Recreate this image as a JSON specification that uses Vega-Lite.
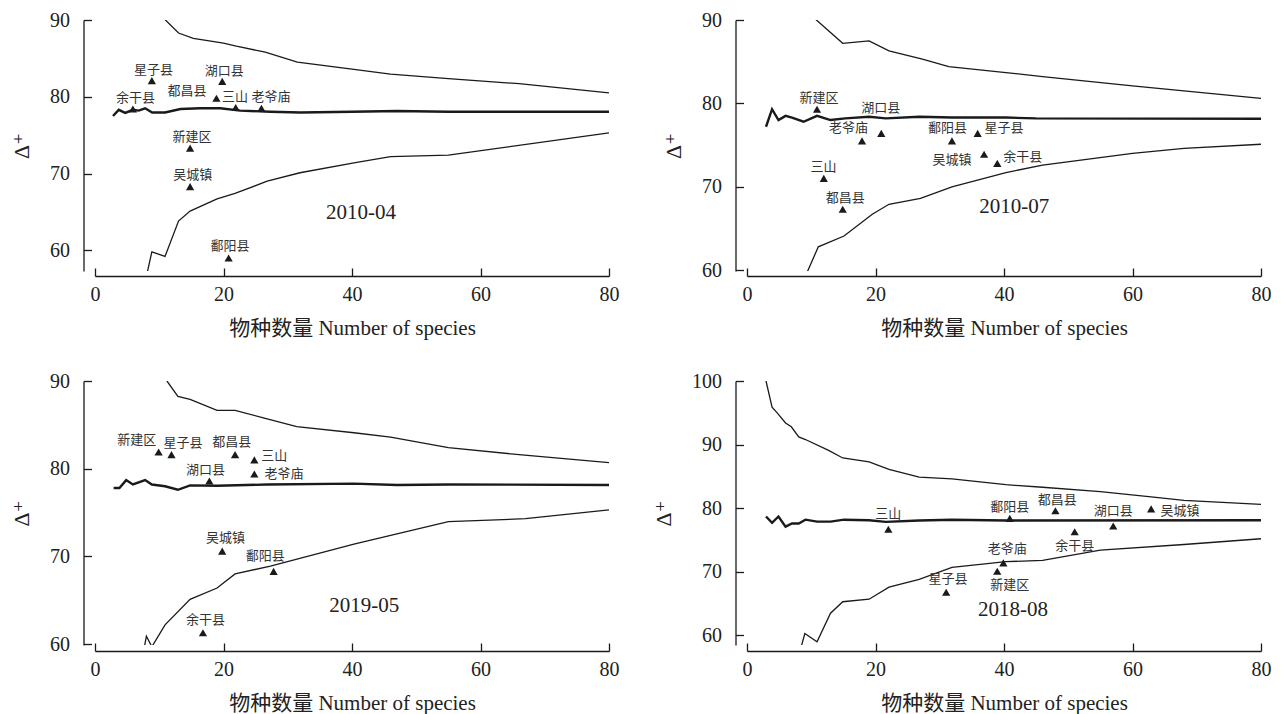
{
  "$schema": "https://vega.github.io/schema/vega-lite/v6.json",
  "padding": {"left": 10, "top": 10, "right": 5, "bottom": 5},
  "background": "white",
  "config": {
    "view": {"stroke": null},
    "axis": {
      "grid": false,
      "domainColor": "#1a1a1a",
      "domainWidth": 1.3,
      "tickColor": "#1a1a1a",
      "tickWidth": 1.3,
      "tickSize": -8,
      "labelFlush": false,
      "labelColor": "#222",
      "titleColor": "#222",
      "labelFont": "Liberation Serif",
      "labelFontSize": 20,
      "titleFont": "Liberation Serif, Noto Sans CJK SC",
      "titleFontWeight": "normal"
    }
  },
  "datasets": {
    "curves": [
      {"panel": "2010-04", "curve": "upper", "x": 10.6, "y": 90.3},
      {"panel": "2010-04", "curve": "upper", "x": 13.0, "y": 88.3},
      {"panel": "2010-04", "curve": "upper", "x": 15.3, "y": 87.6},
      {"panel": "2010-04", "curve": "upper", "x": 20.0, "y": 87.0},
      {"panel": "2010-04", "curve": "upper", "x": 22.0, "y": 86.6},
      {"panel": "2010-04", "curve": "upper", "x": 26.5, "y": 85.8},
      {"panel": "2010-04", "curve": "upper", "x": 31.5, "y": 84.5},
      {"panel": "2010-04", "curve": "upper", "x": 40.0, "y": 83.6},
      {"panel": "2010-04", "curve": "upper", "x": 46.0, "y": 82.95},
      {"panel": "2010-04", "curve": "upper", "x": 55.0, "y": 82.35},
      {"panel": "2010-04", "curve": "upper", "x": 66.0, "y": 81.7},
      {"panel": "2010-04", "curve": "upper", "x": 80.0, "y": 80.5},
      {"panel": "2010-04", "curve": "lower", "x": 8.0, "y": 56.6},
      {"panel": "2010-04", "curve": "lower", "x": 8.85, "y": 59.8},
      {"panel": "2010-04", "curve": "lower", "x": 10.9, "y": 59.2},
      {"panel": "2010-04", "curve": "lower", "x": 13.0, "y": 63.8},
      {"panel": "2010-04", "curve": "lower", "x": 14.8, "y": 65.1},
      {"panel": "2010-04", "curve": "lower", "x": 19.0, "y": 66.7},
      {"panel": "2010-04", "curve": "lower", "x": 21.8, "y": 67.4},
      {"panel": "2010-04", "curve": "lower", "x": 26.8, "y": 69.0},
      {"panel": "2010-04", "curve": "lower", "x": 31.9, "y": 70.1},
      {"panel": "2010-04", "curve": "lower", "x": 40.3, "y": 71.4},
      {"panel": "2010-04", "curve": "lower", "x": 46.0, "y": 72.2},
      {"panel": "2010-04", "curve": "lower", "x": 55.0, "y": 72.4},
      {"panel": "2010-04", "curve": "lower", "x": 80.0, "y": 75.3},
      {"panel": "2010-04", "curve": "mean", "x": 2.8, "y": 77.5},
      {"panel": "2010-04", "curve": "mean", "x": 3.7, "y": 78.3},
      {"panel": "2010-04", "curve": "mean", "x": 4.7, "y": 77.9},
      {"panel": "2010-04", "curve": "mean", "x": 5.9, "y": 78.3},
      {"panel": "2010-04", "curve": "mean", "x": 6.8, "y": 78.2},
      {"panel": "2010-04", "curve": "mean", "x": 7.8, "y": 78.5},
      {"panel": "2010-04", "curve": "mean", "x": 8.9, "y": 77.95},
      {"panel": "2010-04", "curve": "mean", "x": 10.9, "y": 77.95},
      {"panel": "2010-04", "curve": "mean", "x": 13.3, "y": 78.4},
      {"panel": "2010-04", "curve": "mean", "x": 16.4, "y": 78.5},
      {"panel": "2010-04", "curve": "mean", "x": 19.5, "y": 78.5},
      {"panel": "2010-04", "curve": "mean", "x": 22.6, "y": 78.2},
      {"panel": "2010-04", "curve": "mean", "x": 27.3, "y": 78.05},
      {"panel": "2010-04", "curve": "mean", "x": 32.0, "y": 77.95},
      {"panel": "2010-04", "curve": "mean", "x": 40.0, "y": 78.05},
      {"panel": "2010-04", "curve": "mean", "x": 47.0, "y": 78.15},
      {"panel": "2010-04", "curve": "mean", "x": 55.0, "y": 78.05},
      {"panel": "2010-04", "curve": "mean", "x": 80.0, "y": 78.05},

      {"panel": "2010-07", "curve": "upper", "x": 10.65, "y": 90.1},
      {"panel": "2010-07", "curve": "upper", "x": 14.9, "y": 87.2},
      {"panel": "2010-07", "curve": "upper", "x": 19.0, "y": 87.5},
      {"panel": "2010-07", "curve": "upper", "x": 22.1, "y": 86.3},
      {"panel": "2010-07", "curve": "upper", "x": 27.3, "y": 85.3},
      {"panel": "2010-07", "curve": "upper", "x": 31.4, "y": 84.4},
      {"panel": "2010-07", "curve": "upper", "x": 40.3, "y": 83.7},
      {"panel": "2010-07", "curve": "upper", "x": 46.0, "y": 83.2},
      {"panel": "2010-07", "curve": "upper", "x": 60.0, "y": 82.1},
      {"panel": "2010-07", "curve": "upper", "x": 68.0, "y": 81.5},
      {"panel": "2010-07", "curve": "upper", "x": 80.0, "y": 80.6},
      {"panel": "2010-07", "curve": "lower", "x": 9.1, "y": 59.3},
      {"panel": "2010-07", "curve": "lower", "x": 11.1, "y": 62.8},
      {"panel": "2010-07", "curve": "lower", "x": 15.1, "y": 64.1},
      {"panel": "2010-07", "curve": "lower", "x": 19.5, "y": 66.7},
      {"panel": "2010-07", "curve": "lower", "x": 22.1, "y": 67.9},
      {"panel": "2010-07", "curve": "lower", "x": 27.0, "y": 68.6},
      {"panel": "2010-07", "curve": "lower", "x": 31.9, "y": 70.0},
      {"panel": "2010-07", "curve": "lower", "x": 40.3, "y": 71.7},
      {"panel": "2010-07", "curve": "lower", "x": 46.0, "y": 72.6},
      {"panel": "2010-07", "curve": "lower", "x": 60.0, "y": 74.0},
      {"panel": "2010-07", "curve": "lower", "x": 68.0, "y": 74.6},
      {"panel": "2010-07", "curve": "lower", "x": 80.0, "y": 75.1},
      {"panel": "2010-07", "curve": "mean", "x": 2.96, "y": 77.2},
      {"panel": "2010-07", "curve": "mean", "x": 3.9, "y": 79.3},
      {"panel": "2010-07", "curve": "mean", "x": 4.9, "y": 78.0},
      {"panel": "2010-07", "curve": "mean", "x": 6.0, "y": 78.5},
      {"panel": "2010-07", "curve": "mean", "x": 7.0, "y": 78.3},
      {"panel": "2010-07", "curve": "mean", "x": 8.8, "y": 77.8},
      {"panel": "2010-07", "curve": "mean", "x": 10.9, "y": 78.5},
      {"panel": "2010-07", "curve": "mean", "x": 13.0, "y": 78.0},
      {"panel": "2010-07", "curve": "mean", "x": 15.3, "y": 78.2},
      {"panel": "2010-07", "curve": "mean", "x": 19.0, "y": 78.4},
      {"panel": "2010-07", "curve": "mean", "x": 21.6, "y": 78.2},
      {"panel": "2010-07", "curve": "mean", "x": 26.8, "y": 78.4},
      {"panel": "2010-07", "curve": "mean", "x": 31.9, "y": 78.3},
      {"panel": "2010-07", "curve": "mean", "x": 40.3, "y": 78.3},
      {"panel": "2010-07", "curve": "mean", "x": 45.0, "y": 78.2},
      {"panel": "2010-07", "curve": "mean", "x": 80.0, "y": 78.15},

      {"panel": "2019-05", "curve": "upper", "x": 11.2, "y": 90.0},
      {"panel": "2019-05", "curve": "upper", "x": 12.9, "y": 88.25},
      {"panel": "2019-05", "curve": "upper", "x": 14.8, "y": 87.9},
      {"panel": "2019-05", "curve": "upper", "x": 19.0, "y": 86.65},
      {"panel": "2019-05", "curve": "upper", "x": 21.8, "y": 86.65},
      {"panel": "2019-05", "curve": "upper", "x": 26.2, "y": 85.8},
      {"panel": "2019-05", "curve": "upper", "x": 31.4, "y": 84.8},
      {"panel": "2019-05", "curve": "upper", "x": 40.3, "y": 84.1},
      {"panel": "2019-05", "curve": "upper", "x": 46.0, "y": 83.6},
      {"panel": "2019-05", "curve": "upper", "x": 55.0, "y": 82.4},
      {"panel": "2019-05", "curve": "upper", "x": 66.0, "y": 81.6},
      {"panel": "2019-05", "curve": "upper", "x": 80.0, "y": 80.7},
      {"panel": "2019-05", "curve": "lower", "x": 7.6, "y": 59.35},
      {"panel": "2019-05", "curve": "lower", "x": 8.0, "y": 60.9},
      {"panel": "2019-05", "curve": "lower", "x": 8.85, "y": 59.7},
      {"panel": "2019-05", "curve": "lower", "x": 10.9, "y": 62.2},
      {"panel": "2019-05", "curve": "lower", "x": 14.8, "y": 65.1},
      {"panel": "2019-05", "curve": "lower", "x": 19.0, "y": 66.4},
      {"panel": "2019-05", "curve": "lower", "x": 21.8, "y": 68.0},
      {"panel": "2019-05", "curve": "lower", "x": 27.3, "y": 68.9},
      {"panel": "2019-05", "curve": "lower", "x": 40.3, "y": 71.4},
      {"panel": "2019-05", "curve": "lower", "x": 55.0, "y": 73.96},
      {"panel": "2019-05", "curve": "lower", "x": 67.0, "y": 74.3},
      {"panel": "2019-05", "curve": "lower", "x": 80.0, "y": 75.3},
      {"panel": "2019-05", "curve": "mean", "x": 2.9, "y": 77.8},
      {"panel": "2019-05", "curve": "mean", "x": 3.8, "y": 77.8},
      {"panel": "2019-05", "curve": "mean", "x": 4.85, "y": 78.7},
      {"panel": "2019-05", "curve": "mean", "x": 5.9, "y": 78.2},
      {"panel": "2019-05", "curve": "mean", "x": 7.8, "y": 78.7},
      {"panel": "2019-05", "curve": "mean", "x": 8.85, "y": 78.2},
      {"panel": "2019-05", "curve": "mean", "x": 10.9, "y": 78.0},
      {"panel": "2019-05", "curve": "mean", "x": 12.9, "y": 77.6},
      {"panel": "2019-05", "curve": "mean", "x": 14.8, "y": 78.1},
      {"panel": "2019-05", "curve": "mean", "x": 19.0, "y": 78.05},
      {"panel": "2019-05", "curve": "mean", "x": 26.8, "y": 78.2},
      {"panel": "2019-05", "curve": "mean", "x": 40.3, "y": 78.3},
      {"panel": "2019-05", "curve": "mean", "x": 47.0, "y": 78.15},
      {"panel": "2019-05", "curve": "mean", "x": 55.0, "y": 78.2},
      {"panel": "2019-05", "curve": "mean", "x": 80.0, "y": 78.15},

      {"panel": "2018-08", "curve": "upper", "x": 2.96, "y": 100.0},
      {"panel": "2018-08", "curve": "upper", "x": 3.9, "y": 95.9},
      {"panel": "2018-08", "curve": "upper", "x": 4.7, "y": 95.0},
      {"panel": "2018-08", "curve": "upper", "x": 6.0, "y": 93.4},
      {"panel": "2018-08", "curve": "upper", "x": 6.9, "y": 92.8},
      {"panel": "2018-08", "curve": "upper", "x": 8.05, "y": 91.2},
      {"panel": "2018-08", "curve": "upper", "x": 9.1, "y": 90.8},
      {"panel": "2018-08", "curve": "upper", "x": 12.7, "y": 89.1},
      {"panel": "2018-08", "curve": "upper", "x": 14.9, "y": 87.9},
      {"panel": "2018-08", "curve": "upper", "x": 19.0, "y": 87.3},
      {"panel": "2018-08", "curve": "upper", "x": 22.1, "y": 86.1},
      {"panel": "2018-08", "curve": "upper", "x": 26.8, "y": 84.9},
      {"panel": "2018-08", "curve": "upper", "x": 31.9, "y": 84.6},
      {"panel": "2018-08", "curve": "upper", "x": 40.3, "y": 83.7},
      {"panel": "2018-08", "curve": "upper", "x": 46.0, "y": 83.3},
      {"panel": "2018-08", "curve": "upper", "x": 55.0, "y": 82.6},
      {"panel": "2018-08", "curve": "upper", "x": 62.9, "y": 81.8},
      {"panel": "2018-08", "curve": "upper", "x": 68.0, "y": 81.25},
      {"panel": "2018-08", "curve": "upper", "x": 80.0, "y": 80.6},
      {"panel": "2018-08", "curve": "lower", "x": 8.3, "y": 57.7},
      {"panel": "2018-08", "curve": "lower", "x": 9.0, "y": 60.3},
      {"panel": "2018-08", "curve": "lower", "x": 10.9, "y": 59.0},
      {"panel": "2018-08", "curve": "lower", "x": 13.0, "y": 63.5},
      {"panel": "2018-08", "curve": "lower", "x": 14.9, "y": 65.3},
      {"panel": "2018-08", "curve": "lower", "x": 19.0, "y": 65.7},
      {"panel": "2018-08", "curve": "lower", "x": 22.1, "y": 67.6},
      {"panel": "2018-08", "curve": "lower", "x": 26.8, "y": 68.8},
      {"panel": "2018-08", "curve": "lower", "x": 31.9, "y": 70.7},
      {"panel": "2018-08", "curve": "lower", "x": 40.3, "y": 71.6},
      {"panel": "2018-08", "curve": "lower", "x": 46.0, "y": 71.8},
      {"panel": "2018-08", "curve": "lower", "x": 55.0, "y": 73.4},
      {"panel": "2018-08", "curve": "lower", "x": 68.0, "y": 74.3},
      {"panel": "2018-08", "curve": "lower", "x": 80.0, "y": 75.2},
      {"panel": "2018-08", "curve": "mean", "x": 2.96, "y": 78.7},
      {"panel": "2018-08", "curve": "mean", "x": 3.9, "y": 77.7},
      {"panel": "2018-08", "curve": "mean", "x": 4.9, "y": 78.7},
      {"panel": "2018-08", "curve": "mean", "x": 6.0, "y": 77.1},
      {"panel": "2018-08", "curve": "mean", "x": 7.0, "y": 77.6},
      {"panel": "2018-08", "curve": "mean", "x": 8.05, "y": 77.6},
      {"panel": "2018-08", "curve": "mean", "x": 9.1, "y": 78.2},
      {"panel": "2018-08", "curve": "mean", "x": 10.9, "y": 77.9},
      {"panel": "2018-08", "curve": "mean", "x": 13.0, "y": 77.9},
      {"panel": "2018-08", "curve": "mean", "x": 15.1, "y": 78.2},
      {"panel": "2018-08", "curve": "mean", "x": 19.0, "y": 78.1},
      {"panel": "2018-08", "curve": "mean", "x": 21.6, "y": 77.85},
      {"panel": "2018-08", "curve": "mean", "x": 26.8, "y": 78.06},
      {"panel": "2018-08", "curve": "mean", "x": 31.9, "y": 78.2},
      {"panel": "2018-08", "curve": "mean", "x": 40.3, "y": 78.06},
      {"panel": "2018-08", "curve": "mean", "x": 80.0, "y": 78.1}
    ],
    "sites": [
      {"panel": "2010-04", "site": "余干县", "n": 5.9, "delta": 78.4, "lx": 6.3, "ly": 79.9},
      {"panel": "2010-04", "site": "星子县", "n": 8.85, "delta": 82.1, "lx": 9.1, "ly": 83.5},
      {"panel": "2010-04", "site": "都昌县", "n": 18.9, "delta": 79.8, "lx": 14.3, "ly": 80.8},
      {"panel": "2010-04", "site": "湖口县", "n": 19.8, "delta": 82.0, "lx": 20.1, "ly": 83.4},
      {"panel": "2010-04", "site": "三山", "n": 21.9, "delta": 78.6, "lx": 21.8, "ly": 80.0},
      {"panel": "2010-04", "site": "老爷庙", "n": 25.9, "delta": 78.5, "lx": 27.4, "ly": 80.0},
      {"panel": "2010-04", "site": "新建区", "n": 14.8, "delta": 73.3, "lx": 15.1, "ly": 74.7},
      {"panel": "2010-04", "site": "吴城镇", "n": 14.8, "delta": 68.3, "lx": 15.2, "ly": 69.8},
      {"panel": "2010-04", "site": "鄱阳县", "n": 20.8, "delta": 59.0, "lx": 21.0, "ly": 60.5},

      {"panel": "2010-07", "site": "新建区", "n": 10.9, "delta": 79.3, "lx": 11.2, "ly": 80.7},
      {"panel": "2010-07", "site": "湖口县", "n": 20.9, "delta": 76.4, "lx": 20.8, "ly": 79.5},
      {"panel": "2010-07", "site": "老爷庙", "n": 17.9, "delta": 75.5, "lx": 15.8, "ly": 77.0},
      {"panel": "2010-07", "site": "鄱阳县", "n": 31.9, "delta": 75.5, "lx": 31.2, "ly": 77.0},
      {"panel": "2010-07", "site": "星子县", "n": 35.9, "delta": 76.4, "lx": 40.0, "ly": 77.0},
      {"panel": "2010-07", "site": "吴城镇", "n": 36.9, "delta": 73.9, "lx": 31.9, "ly": 73.2},
      {"panel": "2010-07", "site": "余干县", "n": 38.96, "delta": 72.8, "lx": 42.9, "ly": 73.6},
      {"panel": "2010-07", "site": "三山", "n": 11.95, "delta": 71.0, "lx": 11.9, "ly": 72.4},
      {"panel": "2010-07", "site": "都昌县", "n": 14.9, "delta": 67.3, "lx": 15.3, "ly": 68.6},

      {"panel": "2019-05", "site": "新建区", "n": 9.9, "delta": 81.9, "lx": 6.5, "ly": 83.3},
      {"panel": "2019-05", "site": "星子县", "n": 11.9, "delta": 81.6, "lx": 13.7, "ly": 82.9},
      {"panel": "2019-05", "site": "都昌县", "n": 21.8, "delta": 81.6, "lx": 21.3, "ly": 83.0},
      {"panel": "2019-05", "site": "三山", "n": 24.8, "delta": 81.0, "lx": 27.9, "ly": 81.4},
      {"panel": "2019-05", "site": "老爷庙", "n": 24.8, "delta": 79.4, "lx": 29.4, "ly": 79.4},
      {"panel": "2019-05", "site": "湖口县", "n": 17.8, "delta": 78.6, "lx": 17.2, "ly": 79.9},
      {"panel": "2019-05", "site": "吴城镇", "n": 19.8, "delta": 70.6, "lx": 20.3, "ly": 72.1},
      {"panel": "2019-05", "site": "鄱阳县", "n": 27.8, "delta": 68.3, "lx": 26.5, "ly": 70.1},
      {"panel": "2019-05", "site": "余干县", "n": 16.8, "delta": 61.3, "lx": 17.2, "ly": 62.8},

      {"panel": "2018-08", "site": "三山", "n": 22.0, "delta": 76.7, "lx": 22.0, "ly": 79.1},
      {"panel": "2018-08", "site": "鄱阳县", "n": 40.9, "delta": 78.4, "lx": 40.9, "ly": 80.2},
      {"panel": "2018-08", "site": "都昌县", "n": 48.0, "delta": 79.6, "lx": 48.3, "ly": 81.3},
      {"panel": "2018-08", "site": "湖口县", "n": 57.0, "delta": 77.2, "lx": 57.0, "ly": 79.6},
      {"panel": "2018-08", "site": "吴城镇", "n": 62.9, "delta": 79.9, "lx": 67.4, "ly": 79.6},
      {"panel": "2018-08", "site": "余干县", "n": 51.0, "delta": 76.3, "lx": 51.0, "ly": 74.0},
      {"panel": "2018-08", "site": "老爷庙", "n": 39.9, "delta": 71.4, "lx": 40.5, "ly": 73.6},
      {"panel": "2018-08", "site": "新建区", "n": 38.95, "delta": 70.1, "lx": 40.9, "ly": 67.9},
      {"panel": "2018-08", "site": "星子县", "n": 31.0, "delta": 66.8, "lx": 31.3, "ly": 68.8}
    ],
    "panels": [
      {"panel": "2010-04", "tx": 41.4, "ty": 64.9},
      {"panel": "2010-07", "tx": 41.6, "ty": 67.6},
      {"panel": "2019-05", "tx": 41.9, "ty": 64.4},
      {"panel": "2018-08", "tx": 41.4, "ty": 64.0}
    ]
  },
  "columns": 2,
  "bounds": "flush",
  "spacing": {"row": 110, "column": 138},
  "concat": [
    {
      "width": 514, "height": 251,
      "layer": [
        {"data": {"name": "curves"}, "transform": [{"filter": "datum.panel === '2010-04' && datum.curve !== 'mean'"}],
         "mark": {"type": "line", "clip": true, "color": "#1a1a1a", "strokeWidth": 1.3},
         "encoding": {
           "x": {"field": "x", "type": "quantitative", "title": "物种数量 Number of species", "scale": {"domain": [0, 80], "nice": false, "zero": false},
                 "axis": {"values": [0, 20, 40, 60, 80], "offset": 5, "labelPadding": 16, "titleFontSize": 21, "titlePadding": 13}},
           "y": {"field": "y", "type": "quantitative", "title": "Δ⁺", "scale": {"domain": [57.3, 90], "nice": false, "zero": false},
                 "axis": {"values": [60, 70, 80, 90], "offset": 11.5, "labelPadding": 22, "titleFontSize": 22, "titlePadding": 16, "titleFont": "Liberation Serif, DejaVu Serif"}},
           "detail": {"field": "curve"}
         }},
        {"data": {"name": "curves"}, "transform": [{"filter": "datum.panel === '2010-04' && datum.curve === 'mean'"}],
         "mark": {"type": "line", "clip": true, "color": "#1a1a1a", "strokeWidth": 2.4},
         "encoding": {"x": {"field": "x", "type": "quantitative", "title": "物种数量 Number of species"}, "y": {"field": "y", "type": "quantitative", "title": "Δ⁺"}}},
        {"data": {"name": "sites"}, "transform": [{"filter": "datum.panel === '2010-04'"}],
         "mark": {"type": "point", "shape": "triangle-up", "filled": true, "size": 68, "color": "#1a1a1a", "opacity": 1},
         "encoding": {"x": {"field": "n", "type": "quantitative", "title": "物种数量 Number of species"}, "y": {"field": "delta", "type": "quantitative", "title": "Δ⁺"}}},
        {"data": {"name": "sites"}, "transform": [{"filter": "datum.panel === '2010-04'"}],
         "mark": {"type": "text", "font": "Noto Sans CJK SC", "fontSize": 13, "color": "#333", "baseline": "middle", "align": "center"},
         "encoding": {"x": {"field": "lx", "type": "quantitative", "title": "物种数量 Number of species"}, "y": {"field": "ly", "type": "quantitative", "title": "Δ⁺"}, "text": {"field": "site"}}},
        {"data": {"name": "panels"}, "transform": [{"filter": "datum.panel === '2010-04'"}],
         "mark": {"type": "text", "font": "Liberation Serif", "fontSize": 21, "color": "#222", "baseline": "middle", "align": "center"},
         "encoding": {"x": {"field": "tx", "type": "quantitative", "title": "物种数量 Number of species"}, "y": {"field": "ty", "type": "quantitative", "title": "Δ⁺"}, "text": {"field": "panel"}}}
      ]
    },
    {
      "width": 514, "height": 251,
      "layer": [
        {"data": {"name": "curves"}, "transform": [{"filter": "datum.panel === '2010-07' && datum.curve !== 'mean'"}],
         "mark": {"type": "line", "clip": true, "color": "#1a1a1a", "strokeWidth": 1.3},
         "encoding": {
           "x": {"field": "x", "type": "quantitative", "title": "物种数量 Number of species", "scale": {"domain": [0, 80], "nice": false, "zero": false},
                 "axis": {"values": [0, 20, 40, 60, 80], "offset": 5, "labelPadding": 16, "titleFontSize": 21, "titlePadding": 13}},
           "y": {"field": "y", "type": "quantitative", "title": "Δ⁺", "scale": {"domain": [59.9, 90], "nice": false, "zero": false},
                 "axis": {"values": [60, 70, 80, 90], "offset": 11.5, "labelPadding": 22, "titleFontSize": 22, "titlePadding": 16, "titleFont": "Liberation Serif, DejaVu Serif"}},
           "detail": {"field": "curve"}
         }},
        {"data": {"name": "curves"}, "transform": [{"filter": "datum.panel === '2010-07' && datum.curve === 'mean'"}],
         "mark": {"type": "line", "clip": true, "color": "#1a1a1a", "strokeWidth": 2.4},
         "encoding": {"x": {"field": "x", "type": "quantitative", "title": "物种数量 Number of species"}, "y": {"field": "y", "type": "quantitative", "title": "Δ⁺"}}},
        {"data": {"name": "sites"}, "transform": [{"filter": "datum.panel === '2010-07'"}],
         "mark": {"type": "point", "shape": "triangle-up", "filled": true, "size": 68, "color": "#1a1a1a", "opacity": 1},
         "encoding": {"x": {"field": "n", "type": "quantitative", "title": "物种数量 Number of species"}, "y": {"field": "delta", "type": "quantitative", "title": "Δ⁺"}}},
        {"data": {"name": "sites"}, "transform": [{"filter": "datum.panel === '2010-07'"}],
         "mark": {"type": "text", "font": "Noto Sans CJK SC", "fontSize": 13, "color": "#333", "baseline": "middle", "align": "center"},
         "encoding": {"x": {"field": "lx", "type": "quantitative", "title": "物种数量 Number of species"}, "y": {"field": "ly", "type": "quantitative", "title": "Δ⁺"}, "text": {"field": "site"}}},
        {"data": {"name": "panels"}, "transform": [{"filter": "datum.panel === '2010-07'"}],
         "mark": {"type": "text", "font": "Liberation Serif", "fontSize": 21, "color": "#222", "baseline": "middle", "align": "center"},
         "encoding": {"x": {"field": "tx", "type": "quantitative", "title": "物种数量 Number of species"}, "y": {"field": "ty", "type": "quantitative", "title": "Δ⁺"}, "text": {"field": "panel"}}}
      ]
    },
    {
      "width": 514, "height": 264,
      "layer": [
        {"data": {"name": "curves"}, "transform": [{"filter": "datum.panel === '2019-05' && datum.curve !== 'mean'"}],
         "mark": {"type": "line", "clip": true, "color": "#1a1a1a", "strokeWidth": 1.3},
         "encoding": {
           "x": {"field": "x", "type": "quantitative", "title": "物种数量 Number of species", "scale": {"domain": [0, 80], "nice": false, "zero": false},
                 "axis": {"values": [0, 20, 40, 60, 80], "offset": 6, "labelPadding": 16, "titleFontSize": 21, "titlePadding": 13}},
           "y": {"field": "y", "type": "quantitative", "title": "Δ⁺", "scale": {"domain": [59.9, 90], "nice": false, "zero": false},
                 "axis": {"values": [60, 70, 80, 90], "offset": 11.5, "labelPadding": 22, "titleFontSize": 22, "titlePadding": 16, "titleFont": "Liberation Serif, DejaVu Serif"}},
           "detail": {"field": "curve"}
         }},
        {"data": {"name": "curves"}, "transform": [{"filter": "datum.panel === '2019-05' && datum.curve === 'mean'"}],
         "mark": {"type": "line", "clip": true, "color": "#1a1a1a", "strokeWidth": 2.4},
         "encoding": {"x": {"field": "x", "type": "quantitative", "title": "物种数量 Number of species"}, "y": {"field": "y", "type": "quantitative", "title": "Δ⁺"}}},
        {"data": {"name": "sites"}, "transform": [{"filter": "datum.panel === '2019-05'"}],
         "mark": {"type": "point", "shape": "triangle-up", "filled": true, "size": 68, "color": "#1a1a1a", "opacity": 1},
         "encoding": {"x": {"field": "n", "type": "quantitative", "title": "物种数量 Number of species"}, "y": {"field": "delta", "type": "quantitative", "title": "Δ⁺"}}},
        {"data": {"name": "sites"}, "transform": [{"filter": "datum.panel === '2019-05'"}],
         "mark": {"type": "text", "font": "Noto Sans CJK SC", "fontSize": 13, "color": "#333", "baseline": "middle", "align": "center"},
         "encoding": {"x": {"field": "lx", "type": "quantitative", "title": "物种数量 Number of species"}, "y": {"field": "ly", "type": "quantitative", "title": "Δ⁺"}, "text": {"field": "site"}}},
        {"data": {"name": "panels"}, "transform": [{"filter": "datum.panel === '2019-05'"}],
         "mark": {"type": "text", "font": "Liberation Serif", "fontSize": 21, "color": "#222", "baseline": "middle", "align": "center"},
         "encoding": {"x": {"field": "tx", "type": "quantitative", "title": "物种数量 Number of species"}, "y": {"field": "ty", "type": "quantitative", "title": "Δ⁺"}, "text": {"field": "panel"}}}
      ]
    },
    {
      "width": 514, "height": 264,
      "layer": [
        {"data": {"name": "curves"}, "transform": [{"filter": "datum.panel === '2018-08' && datum.curve !== 'mean'"}],
         "mark": {"type": "line", "clip": true, "color": "#1a1a1a", "strokeWidth": 1.3},
         "encoding": {
           "x": {"field": "x", "type": "quantitative", "title": "物种数量 Number of species", "scale": {"domain": [0, 80], "nice": false, "zero": false},
                 "axis": {"values": [0, 20, 40, 60, 80], "offset": 6, "labelPadding": 16, "titleFontSize": 21, "titlePadding": 13}},
           "y": {"field": "y", "type": "quantitative", "title": "Δ⁺", "scale": {"domain": [58.5, 100], "nice": false, "zero": false},
                 "axis": {"values": [60, 70, 80, 90, 100], "offset": 11.5, "labelPadding": 22, "titleFontSize": 22, "titlePadding": 16, "titleFont": "Liberation Serif, DejaVu Serif"}},
           "detail": {"field": "curve"}
         }},
        {"data": {"name": "curves"}, "transform": [{"filter": "datum.panel === '2018-08' && datum.curve === 'mean'"}],
         "mark": {"type": "line", "clip": true, "color": "#1a1a1a", "strokeWidth": 2.4},
         "encoding": {"x": {"field": "x", "type": "quantitative", "title": "物种数量 Number of species"}, "y": {"field": "y", "type": "quantitative", "title": "Δ⁺"}}},
        {"data": {"name": "sites"}, "transform": [{"filter": "datum.panel === '2018-08'"}],
         "mark": {"type": "point", "shape": "triangle-up", "filled": true, "size": 68, "color": "#1a1a1a", "opacity": 1},
         "encoding": {"x": {"field": "n", "type": "quantitative", "title": "物种数量 Number of species"}, "y": {"field": "delta", "type": "quantitative", "title": "Δ⁺"}}},
        {"data": {"name": "sites"}, "transform": [{"filter": "datum.panel === '2018-08'"}],
         "mark": {"type": "text", "font": "Noto Sans CJK SC", "fontSize": 13, "color": "#333", "baseline": "middle", "align": "center"},
         "encoding": {"x": {"field": "lx", "type": "quantitative", "title": "物种数量 Number of species"}, "y": {"field": "ly", "type": "quantitative", "title": "Δ⁺"}, "text": {"field": "site"}}},
        {"data": {"name": "panels"}, "transform": [{"filter": "datum.panel === '2018-08'"}],
         "mark": {"type": "text", "font": "Liberation Serif", "fontSize": 21, "color": "#222", "baseline": "middle", "align": "center"},
         "encoding": {"x": {"field": "tx", "type": "quantitative", "title": "物种数量 Number of species"}, "y": {"field": "ty", "type": "quantitative", "title": "Δ⁺"}, "text": {"field": "panel"}}}
      ]
    }
  ]
}
